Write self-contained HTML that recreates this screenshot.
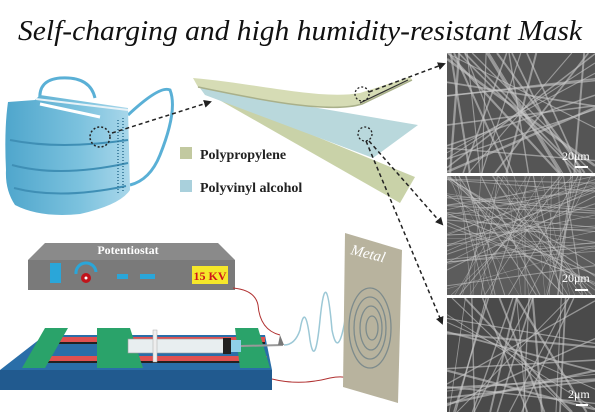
<!DOCTYPE html>
<html><head><meta charset="utf-8"><style>
html,body{margin:0;padding:0;background:#fff;width:600px;height:415px;overflow:hidden}
svg{display:block}
</style></head><body>
<svg id="s" width="600" height="415" viewBox="0 0 600 415" xmlns="http://www.w3.org/2000/svg">
<defs>
<linearGradient id="mg" x1="0" y1="0" x2="1" y2="0"><stop offset="0" stop-color="#4fa6cc"/><stop offset="0.6" stop-color="#7cc2de"/><stop offset="1" stop-color="#a9d7ea"/></linearGradient>
<marker id="ah" markerWidth="8" markerHeight="8" refX="6" refY="4" orient="auto" markerUnits="userSpaceOnUse"><path d="M0,0 L8,4 L0,8 z" fill="#222"/></marker>
<clipPath id="c1"><rect x="447" y="53" width="148" height="120"/></clipPath>
<clipPath id="c2"><rect x="447" y="176" width="148" height="119"/></clipPath>
<clipPath id="c3"><rect x="447" y="298" width="148" height="114"/></clipPath>
</defs>
<text x="18" y="40" font-family="Liberation Serif, serif" font-style="italic" font-size="29" textLength="564" lengthAdjust="spacingAndGlyphs" fill="#111">Self-charging and high humidity-resistant Mask</text>

<!-- mask -->
<path d="M40,100 Q38,80 60,78 Q90,76 95,98" fill="none" stroke="#5ab0d6" stroke-width="3"/>
<path d="M128,115 Q160,85 170,90 Q178,110 160,155 Q150,180 130,185" fill="none" stroke="#5ab0d6" stroke-width="3"/>
<path d="M8,102 L35,100 L40,95 L128,108 L130,190 Q120,205 80,214 Q40,218 15,205 Q5,190 6,170 Q4,130 8,102z" fill="url(#mg)"/>
<path d="M10,140 Q60,150 128,140" stroke="#3f8fb5" stroke-width="2" fill="none"/>
<path d="M12,165 Q60,178 128,163" stroke="#3f8fb5" stroke-width="2" fill="none"/>
<path d="M14,188 Q60,200 126,186" stroke="#3f8fb5" stroke-width="2" fill="none"/>
<path d="M40,104 L100,117" stroke="#fff" stroke-width="3"/>
<path d="M36,99 L128,110" stroke="#e8f2f7" stroke-width="2"/>
<line x1="118" y1="120" x2="118" y2="195" stroke="#2c6f90" stroke-width="1.5" stroke-dasharray="1 2"/>
<line x1="123" y1="118" x2="123" y2="192" stroke="#2c6f90" stroke-width="1.5" stroke-dasharray="1 2"/>
<circle cx="100" cy="137" r="10" fill="none" stroke="#222" stroke-width="1.5" stroke-dasharray="2 2"/>
<line x1="112" y1="133" x2="210" y2="102" stroke="#222" stroke-width="1.5" stroke-dasharray="4 3" marker-end="url(#ah)"/>

<!-- sheets -->
<path d="M200,89 L415,177 L400,203 z" fill="#c9d2a8"/>
<path d="M200,88 L418,125 L373,158 L205,95z" fill="#b9d8dc"/>
<path d="M193,78 C260,84 320,100 360,93 L410,77 L412,80 L362,104 C330,114 260,100 198,87z" fill="#d6dcb5"/>
<path d="M198,87 C260,100 330,114 362,104 L412,80" fill="none" stroke="#a9b08a" stroke-width="1.5"/>
<line x1="360" y1="103" x2="408" y2="80" stroke="#333" stroke-width="1.2"/>
<circle cx="362" cy="94" r="7" fill="none" stroke="#222" stroke-width="1.3" stroke-dasharray="2 2"/>
<circle cx="365" cy="134" r="7" fill="none" stroke="#222" stroke-width="1.3" stroke-dasharray="2 2"/>
<line x1="369" y1="92" x2="444" y2="64" stroke="#222" stroke-width="1.5" stroke-dasharray="4 3" marker-end="url(#ah)"/>
<line x1="369" y1="141" x2="442" y2="224" stroke="#222" stroke-width="1.5" stroke-dasharray="4 3" marker-end="url(#ah)"/>
<line x1="366" y1="141" x2="442" y2="323" stroke="#222" stroke-width="1.5" stroke-dasharray="4 3" marker-end="url(#ah)"/>

<!-- legend -->
<rect x="180" y="147" width="12" height="12" fill="#c2c9a0"/>
<rect x="180" y="180" width="12" height="12" fill="#a9d0dc"/>
<text x="200" y="159" font-family="Liberation Serif, serif" font-weight="bold" font-size="14" fill="#222">Polypropylene</text>
<text x="200" y="192" font-family="Liberation Serif, serif" font-weight="bold" font-size="14" fill="#222">Polyvinyl alcohol</text>

<!-- SEM panels -->
<rect x="447" y="53" width="148" height="120" fill="#555"/>
<rect x="447" y="176" width="148" height="119" fill="#5c5c5c"/>
<rect x="447" y="298" width="148" height="114" fill="#4a4a4a"/>
<g id="f1" clip-path="url(#c1)"></g>
<g id="f2" clip-path="url(#c2)"></g>
<g id="f3" clip-path="url(#c3)"></g>
<text x="562" y="160" font-family="Liberation Serif, serif" font-size="12" fill="#fff">20μm</text>
<line x1="575" y1="167" x2="588" y2="167" stroke="#fff" stroke-width="2"/>
<text x="562" y="282" font-family="Liberation Serif, serif" font-size="12" fill="#fff">20μm</text>
<line x1="575" y1="290" x2="588" y2="290" stroke="#fff" stroke-width="2"/>
<text x="568" y="398" font-family="Liberation Serif, serif" font-size="12" fill="#fff">2μm</text>
<line x1="576" y1="405" x2="588" y2="405" stroke="#fff" stroke-width="2"/>

<!-- potentiostat -->
<path d="M45,243 L218,243 L235,260 L28,260z" fill="#8a8a8a"/>
<rect x="28" y="260" width="207" height="30" fill="#7a7a7a"/>
<text x="128" y="254" text-anchor="middle" font-family="Liberation Serif, serif" font-weight="bold" font-size="12" fill="#fff">Potentiostat</text>
<rect x="50" y="263" width="11" height="20" fill="#2aa6d9"/>
<path d="M76,274 A9,9 0 0 1 96,272" fill="none" stroke="#2aa6d9" stroke-width="3"/>
<circle cx="86" cy="278" r="5" fill="#c0141b"/><circle cx="86" cy="278" r="1.5" fill="#fff"/>
<rect x="117" y="274" width="11" height="5" fill="#2aa6d9"/>
<rect x="140" y="274" width="15" height="5" fill="#2aa6d9"/>
<rect x="192" y="266" width="36" height="18" fill="#f5e82a"/>
<text x="210" y="280" text-anchor="middle" font-family="Liberation Serif, serif" font-weight="bold" font-size="12" fill="#d0141b">15 KV</text>
<path d="M233,288 Q255,290 258,305 Q260,330 280,335" fill="none" stroke="#b03030" stroke-width="1"/>

<!-- base -->
<path d="M45,335 L265,335 L272,370 L0,370z" fill="#2a6ea8"/>
<rect x="0" y="370" width="272" height="20" fill="#215a8f"/>
<rect x="58" y="337" width="207" height="5" fill="#e05050"/>
<rect x="58" y="342" width="207" height="2" fill="#222"/>
<rect x="40" y="356" width="227" height="5" fill="#e05050"/>
<rect x="40" y="361" width="227" height="2" fill="#222"/>
<path d="M45,328 L68,328 L45,368 L22,368z" fill="#2aa36a"/>
<path d="M97,328 L130,328 L143,368 L97,368z" fill="#2aa36a"/>
<path d="M235,328 L258,328 L270,368 L240,368z" fill="#2aa36a"/>
<rect x="128" y="339" width="100" height="14" fill="#e8eef0" stroke="#999" stroke-width="0.6"/>
<rect x="153" y="330" width="4" height="32" fill="#eee" stroke="#aaa" stroke-width="0.5"/>
<rect x="223" y="338" width="8" height="16" fill="#222"/>
<rect x="231" y="340" width="10" height="12" fill="#8fd0e8"/>
<line x1="241" y1="346" x2="283" y2="345" stroke="#999" stroke-width="2"/>
<path d="M280,335 L284,345 L278,345z" fill="#777"/>
<path d="M284,345 Q295,345 300,330 Q305,300 310,340 Q315,370 320,320 Q326,260 332,330 Q338,360 345,320" fill="none" stroke="#9cc8d6" stroke-width="1.5"/>
<path d="M272,379 Q300,386 330,378 Q345,375 352,380" fill="none" stroke="#b03030" stroke-width="1"/>

<!-- metal -->
<path d="M345,233 L402,250 L398,403 L343,387z" fill="#b8b39e"/>
<g fill="none" stroke="#7d8b8c" stroke-width="1.3">
<ellipse cx="370" cy="328" rx="21" ry="40"/><ellipse cx="370" cy="328" rx="16" ry="31"/>
<ellipse cx="371" cy="328" rx="11" ry="22"/><ellipse cx="372" cy="328" rx="6" ry="12"/>
</g>
<text x="0" y="0" transform="translate(350,254) rotate(14)" font-family="Liberation Serif, serif" font-style="italic" font-size="15" fill="#fff">Metal</text>
</svg>
<script>
var seed=7;function r(){seed=(seed*9301+49297)%233280;return seed/233280;}
function fill(id,y0,h,n,w,op){var g=document.getElementById(id);var s='';
for(var i=0;i<n;i++){var x1=447+r()*148,y1=y0,x2=447+r()*148,y2=y0+h;
if(r()<0.4){x1=447;y1=y0+r()*h;x2=595;y2=y0+r()*h;}
s+='<line x1="'+x1+'" y1="'+y1+'" x2="'+x2+'" y2="'+y2+'" stroke="#c8c8c8" stroke-opacity="'+op+'" stroke-width="'+(w*(0.6+r()))+'"/>';}
g.innerHTML=s;}
fill('f1',53,120,35,1.6,0.6);fill('f2',176,119,80,0.7,0.55);fill('f3',298,114,35,1.4,0.6);
</script>
</body></html>
